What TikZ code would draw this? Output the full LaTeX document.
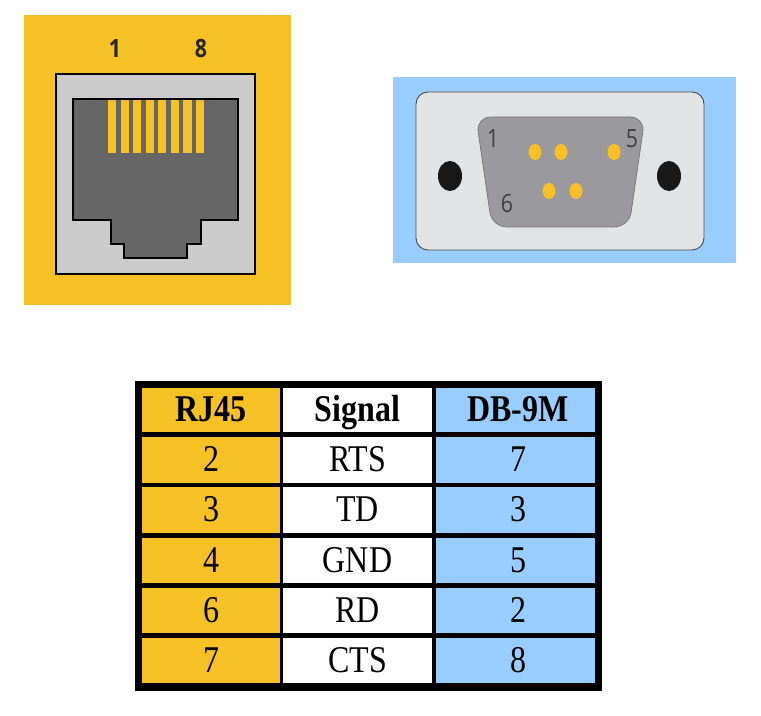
\documentclass[tikz,border=0pt]{standalone}
\usepackage{fontspec}
\setmainfont{Liberation Serif}
\newfontfamily\pinfont{Open Sans}
\definecolor{rjorange}{HTML}{F5C125}
\definecolor{dbblue}{HTML}{99CCFF}
\definecolor{jackgray}{HTML}{CCCCCC}
\definecolor{jackdark}{HTML}{666666}
\definecolor{plategray}{HTML}{E1E3E4}
\definecolor{shellgray}{HTML}{9A9A9E}
\definecolor{pinyellow}{HTML}{F8BF26}
\newcommand{\tallnum}[1]{\scalebox{1}[1.18]{#1}}
\tikzset{
  cell/.style={inner sep=0pt,minimum height=45.5pt*0.75,text height=18pt,text depth=0pt,text=black,font=\fontsize{24}{24}\selectfont},
  rjcell/.style={cell,fill=rjorange,minimum width=138*0.75pt},
  sigcell/.style={cell,fill=white,minimum width=149*0.75pt},
  dbcell/.style={cell,fill=dbblue,minimum width=159*0.75pt,execute at begin node={\hspace*{3.75pt}}},
  pinlabel/.style={inner sep=0pt,font=\pinfont\fontsize{16}{16}\selectfont}
}
\begin{document}
\begin{tikzpicture}[x=.75pt,y=-.75pt]
   \useasboundingbox (0,0) rectangle (761,716);

   % RJ45 jack
   \fill[rjorange] (24,15) rectangle (291,305);
   \draw[fill=jackgray,line width=1.5pt] (56,74) rectangle (255,274);
   \draw[fill=jackdark,line width=1.2pt]
   (73,99) -- (238,99) -- (238,220) -- (201,220) -- (201,244) -- (187,244) --
   (187,258) -- (124,258) -- (124,244) -- (111,244) -- (111,220) -- (73,220) -- cycle;
   \foreach \i in {0,...,7}
     \fill[rjorange] (108+12.55*\i,100) rectangle +(8.2,53);
   \node[pinlabel,text=black!85] (rjone) at (115,49) {\tallnum{\bfseries 1}};
   \node[pinlabel,text=black!85] (rjeight) at (201,49) {\tallnum{\bfseries 8}};

   % DB-9 plug
   \fill[dbblue] (393,77) rectangle (736,263);
   \draw[fill=plategray,draw=black!70,rounded corners=9pt,line width=.7pt]
   (416,92) rectangle (704,250);
   \draw[fill=shellgray,draw=black!55,rounded corners=11pt,line width=.5pt]
   (476,117) -- (645,117) -- (629,227) -- (492,227) -- cycle;
   \fill[black!90] (450,176) ellipse (12 and 15);
   \fill[black!90] (669,176) ellipse (12 and 15);
   \foreach \x/\y in {535/152,561/152,614/152,549/191,576/191}
     \fill[pinyellow] (\x,\y) ellipse (6.5 and 8);
   \node[pinlabel,text=black!75] (dbone) at (493,139) {\tallnum{1}};
   \node[pinlabel,text=black!75] (dbfive) at (632,139) {\tallnum{5}};
   \node[pinlabel,text=black!75] (dbsix) at (507,204) {\tallnum{6}};

   % pin table
   \fill[black] (135,381) rectangle (602,691);
   \node[rjcell,minimum height=44*.75pt] (rjhead) at (211,410) {\tallnum{\textbf{RJ45}}};
   \node[sigcell,minimum height=44*.75pt] (sighead) at (357.5,410) {\tallnum{\textbf{Signal}}};
   \node[dbcell,minimum height=44*.75pt] (dbhead) at (515.5,410) {\tallnum{\textbf{DB-9M}}};
   \foreach \y/\rj/\sig/\db [count=\i] in
   {460/2/RTS/7,510/3/TD/3,560.5/4/GND/5,610.5/6/RD/2,660.5/7/CTS/8}{
     \node[rjcell] (rj\i) at (211,\y) {\tallnum{\rj}};
     \node[sigcell] (sig\i) at (357.5,\y) {\tallnum{\sig}};
     \node[dbcell] (db\i) at (515.5,\y) {\tallnum{\db}};
   }
 \end{tikzpicture}
\end{document}
